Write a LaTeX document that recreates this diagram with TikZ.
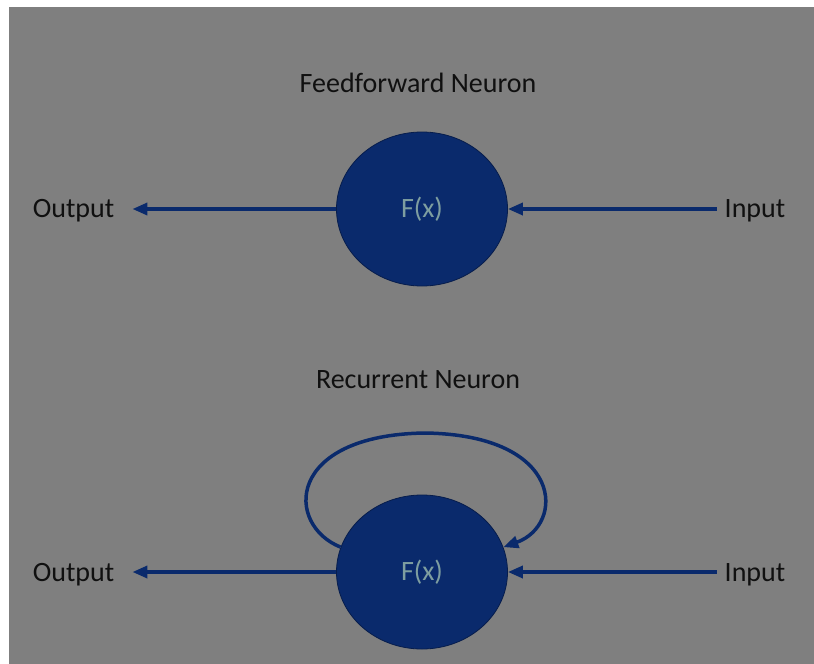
\documentclass[tikz,border=0pt]{standalone}
\usepackage{fontspec}
\setmainfont{Carlito}
\usetikzlibrary{arrows.meta,shapes.geometric}
\definecolor{bgray}{HTML}{7F7F7F}
\definecolor{navy}{HTML}{0A2A6C}
\definecolor{fxtext}{HTML}{7E9EA0}
\definecolor{labeltext}{HTML}{101010}
\tikzset{
  x=1pt, y=-1pt,
  neuron/.style={ellipse, draw=navy!70!black, line width=0.8pt, fill=navy,
    minimum width=171pt, minimum height=154pt, inner sep=0pt,
    text=fxtext, font=\fontsize{28}{32}\selectfont},
  title/.style={text=labeltext, font=\fontsize{28}{32}\selectfont},
  io/.style={text=labeltext, font=\fontsize{28}{32}\selectfont, inner sep=2pt},
  link/.style={draw=navy, line width=3.5pt, -{Triangle[length=15pt,width=12pt]}}
}
\begin{document}
\begin{tikzpicture}
  % page and grey panel
  \fill[white] (0,0) rectangle (814,664);
  \fill[bgray] (9,7) rectangle (814,664);
  \useasboundingbox (0,0) rectangle (814,664);

  % feedforward neuron
  \node[title] (t1) at (418,83) {Feedforward Neuron};
  \node[neuron] (n1) at (422,209) {F(x)};
  \node[io] (o1) at (73.5,211) {Output};
  \node[io] (i1) at (755,211) {Input};
  \draw[link, shorten >=16pt] (n1.west) -- (n1.west -| o1.east);
  \draw[link, shorten <=6pt] (i1.west |- n1.east) -- (n1.east);

  % recurrent neuron
  \node[title] (t2) at (418,380) {Recurrent Neuron};
  \node[neuron] (n2) at (422,572) {F(x)};
  \node[io] (o2) at (73.5,575) {Output};
  \node[io] (i2) at (755,575) {Input};
  \draw[link, shorten >=16pt] (n2.west) -- (n2.west -| o2.east);
  \draw[link, shorten <=6pt] (i2.west |- n2.east) -- (n2.east);

  % self loop
  \draw[link] (n2.163) .. controls (285,525) and (285,435) .. (425,433)
    .. controls (565,435) and (565,525) .. (n2.17);
\end{tikzpicture}
\end{document}
